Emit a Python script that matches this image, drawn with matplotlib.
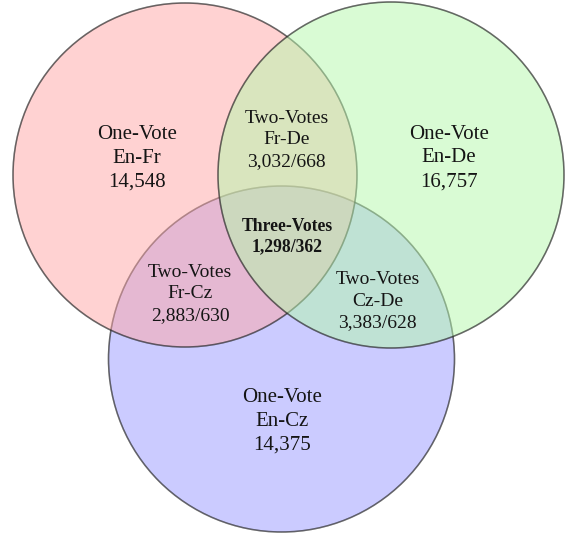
import matplotlib.pyplot as plt
from matplotlib.patches import Circle

# data
pairs = ["En-Fr", "En-De", "En-Cz"]
one_vote = ["14,548", "16,757", "14,375"]
two_pairs = ["Fr-De", "Fr-Cz", "Cz-De"]
two_votes = ["3,032/668", "2,883/630", "3,383/628"]
three_votes = "1,298/362"


def main():
    fig = plt.figure(figsize=(5.69, 5.33), dpi=100)
    ax = fig.add_axes([0, 0, 1, 1])
    ax.set_xlim(0, 569)
    ax.set_ylim(533, 0)
    ax.set_aspect("equal")
    ax.axis("off")

    # circles drawn bottom to top: blue, red, green
    circles = [
        ((281.5, 359), 173, (0.6, 0.6, 1.0)),
        ((185, 175), 172, (1.0, 0.655, 0.655)),
        ((391, 175), 173, (0.71, 0.976, 0.67)),
    ]
    for c, r, col in circles:
        ax.add_patch(Circle(c, r, facecolor=col, edgecolor="#222222",
                            linewidth=1.1, alpha=0.5))
        ax.add_patch(Circle(c, r, facecolor="none", edgecolor="#222222",
                            linewidth=1.1, alpha=0.35))

    font = dict(family=["Liberation Serif", "DejaVu Serif"], fontsize=15,
                color="#151515", ha="center", va="center", linespacing=1.33)

    one_pos = [(137, 158.5), (449, 158), (282, 421)]
    for (x, y), p, v in zip(one_pos, pairs, one_vote):
        ax.text(x, y, "One-Vote\n%s\n%s" % (p, v), **font)

    two_font = dict(font, fontsize=14, linespacing=1.38)
    two_pos = [(286.5, 140), (190, 294), (377.5, 301)]
    for (x, y), p, v in zip(two_pos, two_pairs, two_votes):
        ax.text(x, y, "Two-Votes\n%s\n%s" % (p, v), **two_font)

    bold = dict(font, fontsize=12.7, fontweight="bold", linespacing=1.2)
    ax.text(287, 236.5, "Three-Votes\n%s" % three_votes, **bold)

    fig.savefig("out.png", dpi=100)


if __name__ == "__main__":
    main()
